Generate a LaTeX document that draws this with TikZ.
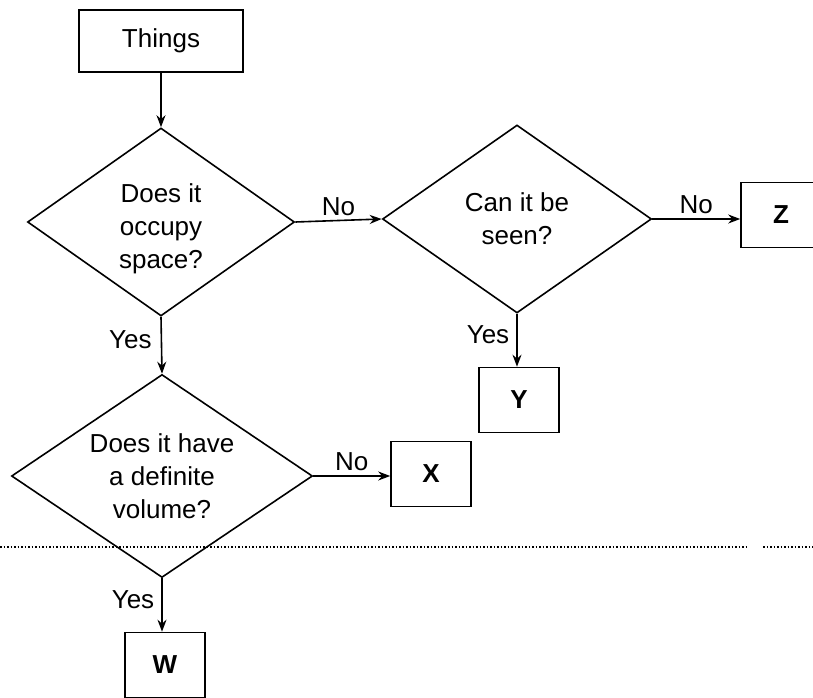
\documentclass[tikz,border=0pt]{standalone}
\usepackage{fontspec}
\setmainfont{Liberation Sans}
\usetikzlibrary{shapes.geometric, arrows.meta}
\newcommand{\chartfont}{\fontsize{26}{33}\selectfont}
\tikzset{
  box/.style={draw, line width=1.6pt, minimum width=80pt, minimum height=65pt, inner sep=0pt, font=\chartfont\bfseries},
  ask/.style={diamond, draw, line width=1.6pt, aspect=1.5, inner sep=0pt, align=center, font=\chartfont},
  go/.style={line width=1.6pt, -{Stealth[length=12pt, width=9pt]}},
  lab/.style={inner sep=4pt, font=\chartfont}}

\begin{document}
\begin{tikzpicture}[x=1pt, y=-1pt]
\useasboundingbox (0,0) rectangle (813,698);
	\node[draw, line width=1.6pt, minimum width=164pt, minimum height=62pt, font=\chartfont] (t) at (161,41) {Things};
	\node[ask, minimum width=267pt, minimum height=188pt] (q1) at (161,222) {\rule{0pt}{33pt}Does it\\occupy\\space?};
	\node[ask, minimum width=269pt, minimum height=188pt] (q2) at (517,219) {Can it be\\seen?};
	\node[ask, minimum width=301pt, minimum height=203pt] (q3) at (162,476) {Does it have\\a definite\\volume?};
\node[box] (bz) at (781,215) {Z};
\node[box] (by) at (519,400) {Y};
\node[box] (bx) at (431,474) {X};
\node[box] (bw) at (165,665) {W};
\coordinate (l1) at (0,547);
\coordinate (l2) at (748,547);
\coordinate (l3) at (763,547);
\coordinate (l4) at (813,547);
\draw[go] (t.south) -- (q1.north);
\draw[go] (q1.east) -- node[lab, above] {No} (q2.west);
\draw[go] (q2.east) -- node[lab, above] {No} (q2.east -| bz.west);
\draw[go] (q3.east) -- node[lab, above] {No} (q3.east -| bx.west);
\draw[go] (q1.south) -- node[lab, left, pos=0.4, xshift=-5pt] {Yes} (q3.north);
\draw[go] (q2.south) -- node[lab, left, pos=0.4, xshift=-3pt] {Yes} (q2.south |- by.north);
\draw[go] (q3.south) -- node[lab, left, pos=0.4, xshift=-3pt] {Yes} (q3.south |- bw.north);
\draw[line width=1.2pt, dash pattern=on 1.5pt off 2pt] (l1) -- (l2) (l3) -- (l4);
	\end{tikzpicture}
\end{document}
